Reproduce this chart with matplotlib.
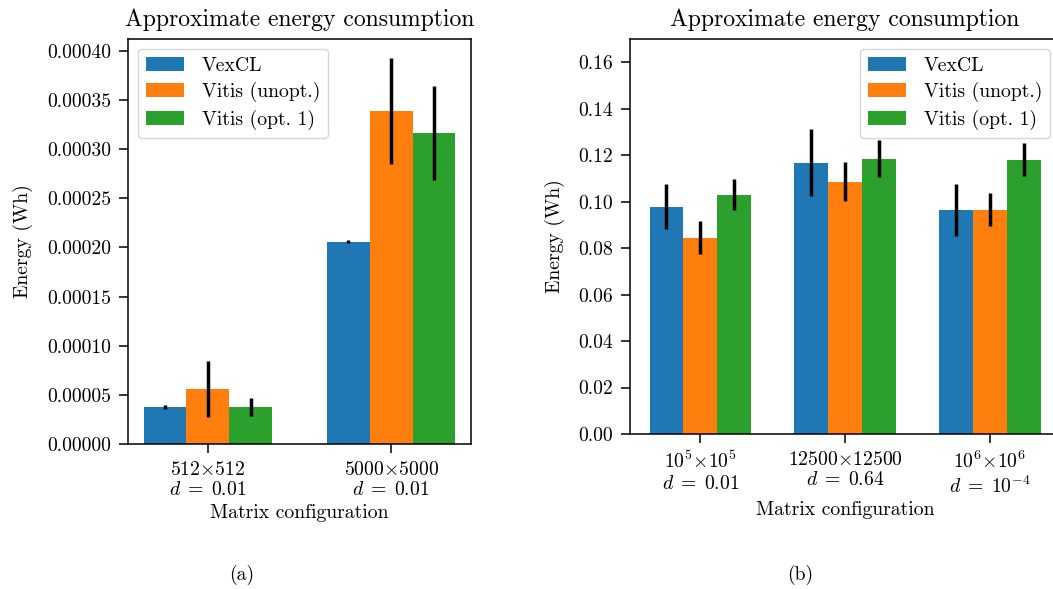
import numpy as np
import matplotlib
matplotlib.use("Agg")
import matplotlib.pyplot as plt
from matplotlib.ticker import FormatStrFormatter

plt.rcParams['font.family'] = 'serif'
plt.rcParams['font.serif'] = ['cmr10']
plt.rcParams['mathtext.fontset'] = 'cm'
plt.rcParams['axes.formatter.use_mathtext'] = True
plt.rcParams['font.size'] = 14.2
plt.rcParams['axes.linewidth'] = 1.1
for ax_name in ('xtick', 'ytick'):
    plt.rcParams[ax_name + '.major.width'] = 1.1
    plt.rcParams[ax_name + '.major.size'] = 6.5
    plt.rcParams[ax_name + '.major.pad'] = 5.5

series = ["VexCL", "Vitis (unopt.)", "Vitis (opt. 1)"]

# (a) small matrices
configs_a = ["512$\\times$512\n$d\\;=\\;$0.01", "5000$\\times$5000\n$d\\;=\\;$0.01"]
energy_a = [
    [0.0000378, 0.000206],    # VexCL
    [0.0000561, 0.0003385],   # Vitis (unopt.)
    [0.0000378, 0.0003163],   # Vitis (opt. 1)
]
err_a = [
    [0.0000018, 0.0000012],
    [0.0000285, 0.000054],
    [0.000009, 0.000048],
]

# (b) large matrices
configs_b = ["$10^5$$\\times$$10^5$\n$d\\;=\\;$0.01", "12500$\\times$12500\n$d\\;=\\;$0.64",
             "$10^6$$\\times$$10^6$\n$d\\;=\\;10^{-4}$"]
energy_b = [
    [0.0978, 0.1168, 0.0966],
    [0.0845, 0.1086, 0.0966],
    [0.1030, 0.1185, 0.1181],
]
err_b = [
    [0.0096, 0.0144, 0.0112],
    [0.0070, 0.0085, 0.0073],
    [0.0066, 0.0080, 0.0072],
]

width = 0.7 / 3

fig = plt.figure(figsize=(10.53, 5.89), dpi=100)
ax1 = fig.add_axes([0.1216, 0.2462, 0.3257, 0.6876])
ax2 = fig.add_axes([0.5983, 0.2632, 0.4084, 0.6706])


def grouped_bars(ax, configs, energy, err):
    x = np.arange(len(configs))
    for i, name in enumerate(series):
        ax.bar(x + (i - 1) * width, energy[i], width, yerr=err[i],
               label=name, error_kw=dict(elinewidth=2.5, ecolor='black', capsize=0))
    ax.set_xticks(x)
    ax.set_xticklabels(configs)
    ax.set_xlabel("Matrix configuration", labelpad=3)
    ax.set_ylabel("Energy (Wh)", labelpad=10)
    ax.set_title("Approximate energy consumption", pad=9)


legend_kw = dict(labelspacing=0.38, handlelength=1.95, handletextpad=0.9)

grouped_bars(ax1, configs_a, energy_a, err_a)
ax1.yaxis.set_major_formatter(FormatStrFormatter('%.5f'))
ax1.legend(loc='upper left', **legend_kw)

grouped_bars(ax2, configs_b, energy_b, err_b)
ax2.set_ylim(0, 0.17)
ax2.yaxis.set_major_formatter(FormatStrFormatter('%.2f'))
ax2.legend(loc='upper right', **legend_kw)

fig.text(242 / 1053, 1 - 575 / 589, "(a)", ha='center', va='center')
fig.text(800 / 1053, 1 - 575 / 589, "(b)", ha='center', va='center')

fig.savefig("out.png", dpi=100)
